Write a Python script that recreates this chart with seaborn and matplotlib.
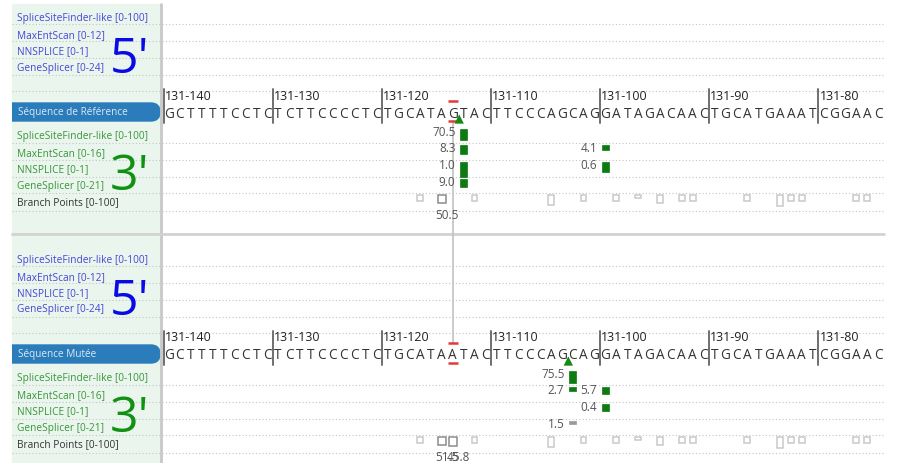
import numpy as np
import pandas as pd
import matplotlib
matplotlib.use("Agg")
import matplotlib.pyplot as plt
from matplotlib.patches import FancyBboxPatch, Rectangle
import seaborn as sns

# ---------------- data ----------------
ref_seq = "GCTTTTCCTCTCTTCCCCTCTGCATAGTACTTCCCAGCAGGATAGACAACTGCATGAAATCGGAAC"
mut_seq = "GCTTTTCCTCTCTTCCCCTCTGCATAATACTTCCCAGCAGGATAGACAACTGCATGAAATCGGAAC"
mut_index = 26
decade_labels = ["131-140", "131-130", "131-120", "131-110", "131-100", "131-90", "131-80"]

five_labels = ["SpliceSiteFinder-like [0-100]", "MaxEntScan [0-12]",
               "NNSPLICE [0-1]", "GeneSplicer [0-24]"]
three_labels = ["SpliceSiteFinder-like [0-100]", "MaxEntScan [0-16]",
                "NNSPLICE [0-1]", "GeneSplicer [0-21]", "Branch Points [0-100]"]
three_max = [100, 16, 1, 21]

# 3' acceptor predictions (site = first base after AG)
ref_sites = [27, 40]
ref_ssf = [70.5, np.nan]
ref_maxent = [8.3, 4.1]
ref_nnsplice = [1.0, 0.6]
ref_genesplicer = [9.0, np.nan]
ref_top_site = 27

mut_sites = [37, 40]
mut_ssf = [75.5, np.nan]
mut_maxent = [2.7, 5.7]
mut_nnsplice = [np.nan, 0.4]
mut_genesplicer = [1.5, np.nan]
mut_top_site = 37
weak_scores = [1.5]  # drawn grey

# branch points: position, relative box height, strong flag, label
ref_bp_pos = [23, 25, 28, 35, 38, 41, 43, 45, 47, 48, 53, 56, 57, 58, 63, 64]
ref_bp_h = [6, 8, 6, 10, 6, 6, 3, 8, 6, 6, 6, 11, 6, 6, 6, 6]
ref_bp_strong = [0, 1, 0, 0, 0, 0, 0, 0, 0, 0, 0, 0, 0, 0, 0, 0]
ref_bp_label = {25: "50.5"}

mut_bp_pos = [23, 25, 26, 28, 35, 38, 41, 43, 45, 47, 48, 53, 56, 57, 58, 63, 64]
mut_bp_h = [6, 8, 9, 6, 10, 6, 6, 3, 8, 6, 6, 6, 11, 6, 6, 6, 6]
mut_bp_strong = [0, 1, 1, 0, 0, 0, 0, 0, 0, 0, 0, 0, 0, 0, 0, 0, 0]
mut_bp_label = {25: "51.5", 26: "45.8"}

# ---------------- style ----------------
sns.set_theme(style="white")
plt.rcParams['font.family'] = ['Open Sans', 'DejaVu Sans']

W, H = 897, 464
X0, DX = 169.0, 10.91       # pixel centre of base 0, pixel width of a base
LEFT, RIGHT, PANEL_L = 160, 884, 12

GREEN_BG = "#e9f5ed"
LINE_COL = "#c4c4c4"
BLUE_TXT = "#4646d8"
GREEN_TXT = "#3a963a"
BAR_COL = "#0d7a12"

fig = plt.figure(figsize=(W / 100, H / 100), dpi=100)
bg = fig.add_axes([0, 0, 1, 1])
bg.set_xlim(0, W)
bg.set_ylim(H, 0)
bg.axis("off")

ax = fig.add_axes([LEFT / W, 0, (RIGHT - LEFT) / W, 1])
ax.set_xlim((LEFT - X0) / DX, (RIGHT - X0) / DX)
ax.set_ylim(H, 0)
ax.axis("off")
ax.patch.set_alpha(0)

# left label panel
bg.add_patch(Rectangle((PANEL_L, 5), LEFT - PANEL_L, H - 5, color=GREEN_BG, zorder=0))
bg.plot([LEFT + 1, LEFT + 1], [5, H], color="#c8c8c8", lw=2, zorder=3)
bg.plot([PANEL_L, RIGHT], [235, 235], color="#d2d2d2", lw=2, zorder=3)


def dotted(y):
    bg.plot([PANEL_L, RIGHT], [y, y], color=LINE_COL, lw=0.8,
            linestyle=(0, (1, 2)), zorder=1)


def draw_block(off, seq, pill_text, sites, values, top_site, bp_pos, bp_h,
               bp_strong, bp_label, red_top, red_bot):
    # ---- 5' block ----
    for y in [25, 42, 59, 76, 92]:
        dotted(y + off)
    for lab, y in zip(five_labels, [19, 36, 52, 68]):
        bg.text(17, y + off, lab, color=BLUE_TXT, fontsize=7.3, va="center", ha="left")
    bg.text(110, 73 + off, "5'", color="#0a0ae6", fontsize=36, va="baseline",
            ha="left")

    # ---- sequence ----
    pill = FancyBboxPatch((0, 104 + off), LEFT, 18,
                          boxstyle="round,pad=0,rounding_size=9",
                          color="#2b7cba", zorder=2)
    bg.add_patch(pill)
    pill.set_clip_path(Rectangle((PANEL_L, 0), W, H, transform=bg.transData))
    bg.text(18, 113 + off, pill_text, color="#dbe9f6", fontsize=7.2,
            va="center", ha="left", zorder=3)

    for i, ch in enumerate(seq):
        ax.text(i, 114 + off, ch, ha="center", va="center", fontsize=9.8,
                color="#333333")
    for k, lab in enumerate(decade_labels):
        x = 10 * k - 0.5
        ax.plot([x, x], [90 + off, 124 + off], color="#6f6f6f", lw=1.4)
        ax.text(x + 0.12, 96 + off, lab, ha="left", va="center",
                fontsize=9, color="#222222")
    for y in (red_top, red_bot):
        ax.plot([mut_index - 0.45, mut_index + 0.45], [y + off, y + off],
                color="#e33a3a", lw=1.8, solid_capstyle="butt")

    # ---- 3' block ----
    for y in [144, 161, 178, 194, 212]:
        dotted(y + off)
    for j, (lab, y) in enumerate(zip(three_labels, [137, 154, 170, 187, 203])):
        col = "#333333" if j == 4 else GREEN_TXT
        bg.text(17, y + off, lab, color=col, fontsize=7.3, va="center", ha="left")
    bg.text(110, 190 + off, "3'", color="#119111", fontsize=36, va="baseline",
            ha="left")

    row_tops = [128, 144, 161, 178]
    for r, vals in enumerate(values):
        for s, v in zip(sites, vals):
            if np.isnan(v):
                continue
            top = row_tops[r] + 2 + off
            h = 2 + v / three_max[r] * 13
            col = "#9a9a9a" if v in weak_scores else BAR_COL
            ax.bar(s, h, bottom=top, width=0.62, color=col,
                   edgecolor=col, linewidth=0.5, zorder=4)
            ax.text(s - 0.75, top + 3, f"{v:.1f}", ha="right", va="center",
                    fontsize=8.5, color="#555555")

    tri = pd.DataFrame({"x": [top_site - 0.4], "y": [120 + off]})
    sns.scatterplot(data=tri, x="x", y="y", marker="^", s=45, color="#148a14",
                    edgecolor="none", legend=False, ax=ax, zorder=5)

    # branch points
    for p, h, st in zip(bp_pos, bp_h, bp_strong):
        w = 0.72 if st else 0.52
        ax.bar(p, h, bottom=196 + off, width=w, fill=False,
               edgecolor="#8c8c8c" if st else "#c9c9c9", linewidth=1.1, zorder=4)
        if p in bp_label:
            ax.text(p - w / 2 - 0.2, 216 + off, bp_label[p], ha="left",
                    va="center", fontsize=8.5, color="#555555")


draw_block(0, ref_seq, "Séquence de Référence", ref_sites,
           [ref_ssf, ref_maxent, ref_nnsplice, ref_genesplicer], ref_top_site,
           ref_bp_pos, ref_bp_h, ref_bp_strong, ref_bp_label, 102, 122)
draw_block(242, mut_seq, "Séquence Mutée", mut_sites,
           [mut_ssf, mut_maxent, mut_nnsplice, mut_genesplicer], mut_top_site,
           mut_bp_pos, mut_bp_h, mut_bp_strong, mut_bp_label, 102, 122)

# vertical guide through the variant
ax.plot([mut_index, mut_index], [122, 344], color="#c2c2c2", lw=1.2, zorder=1)

fig.savefig("out.png", dpi=100)
